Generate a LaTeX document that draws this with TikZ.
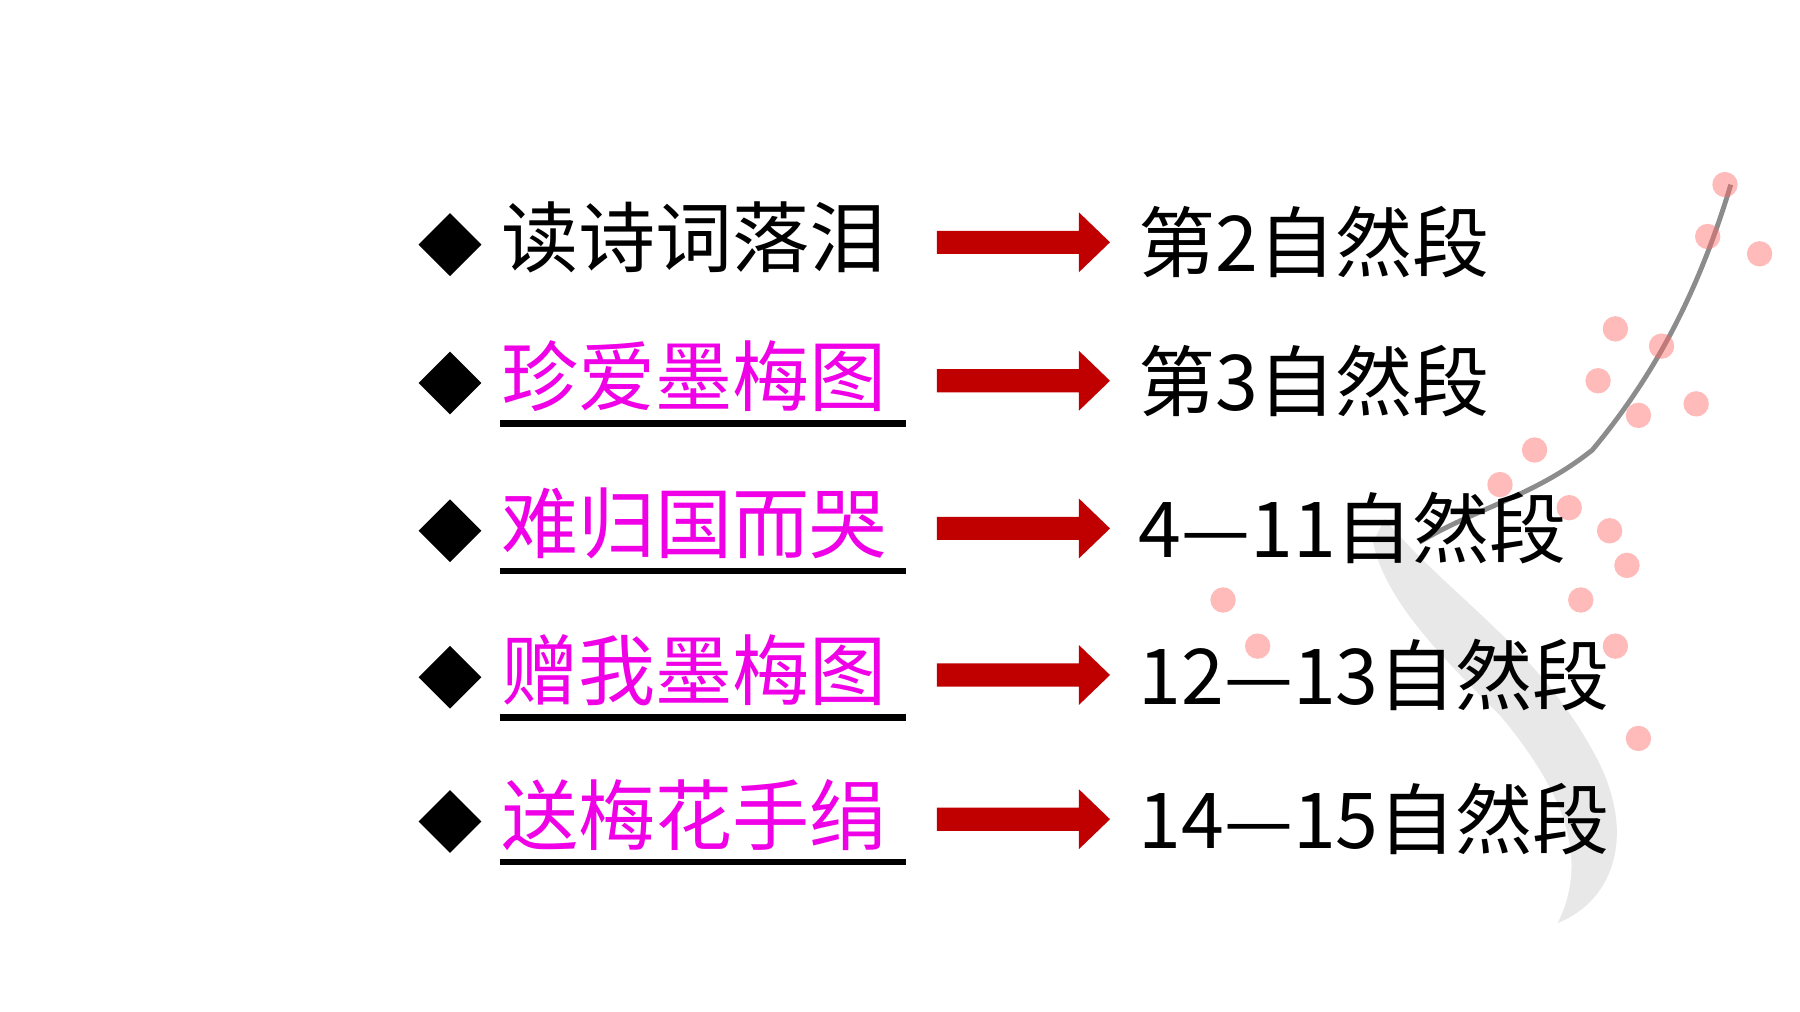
\documentclass[tikz,border=0pt]{standalone}
\usepackage{fontspec}
\usetikzlibrary{shapes.geometric}
\setmainfont{Noto Sans CJK SC}
\definecolor{mag}{RGB}{240,0,230}
\definecolor{darr}{RGB}{192,0,0}
\begin{document}
\begin{tikzpicture}[x=0.01cm,y=-0.01cm,
  lbl/.style={anchor=west,inner sep=0,font=\fontsize{19}{20}\selectfont},
  rlbl/.style={anchor=west,inner sep=0,font=\fontsize{19}{20}\selectfont},
  bullet/.style={diamond,fill=black,minimum size=0.55cm,inner sep=0},
  arr/.style={fill=darr},
  uline/.style={line width=1.6pt}]
\useasboundingbox (0,0) rectangle (1560,877);
% faint background branch and blossoms
\fill[black!9] (1200,450) .. controls (1260,520) and (1330,560) .. (1380,650) .. controls (1420,720) and (1400,780) .. (1350,800) .. controls (1380,740) and (1350,680) .. (1300,620) .. controls (1250,570) and (1200,520) .. (1190,470) -- cycle;
\draw[black!45,line width=1.2pt] (1500,160) .. controls (1470,260) and (1430,330) .. (1380,390) .. controls (1330,430) and (1280,440) .. (1230,470);
\foreach \p in {(1495,160),(1480,205),(1525,220),(1400,285),(1440,300),(1385,330),(1470,350),(1420,360),(1330,390),(1360,440),(1395,460),(1300,420),(1410,490),(1370,520),(1060,520),(1090,560),(1400,560),(1420,640)}
  \fill[red!60!white,opacity=0.45] \p circle (11);
\foreach \y/\t/\c/\r/\u in {210/读诗词落泪/black/第2自然段/0,330/珍爱墨梅图/mag/第3自然段/1,458/难归国而哭/mag/4—11自然段/1,585/赠我墨梅图/mag/12—13自然段/1,710/送梅花手绢/mag/14—15自然段/1}{
  \node[bullet] (b\y) at (390,\y+2) {};
  \node[lbl,text=\c] (l\y) at (434,\y-4) {\t};
  \ifnum\u=1 \coordinate (us\y) at (433,\y+37); \coordinate (ue\y) at (785,\y+37); \draw[uline] (us\y) -- (ue\y); \fi
  \fill[arr] (812,\y-10) -- (935,\y-10) -- (935,\y-26) -- (962,\y) -- (935,\y+26) -- (935,\y+10) -- (812,\y+10) -- cycle;
  \node[rlbl] (r\y) at (986,\y) {\r};
}
\end{tikzpicture}
\end{document}
